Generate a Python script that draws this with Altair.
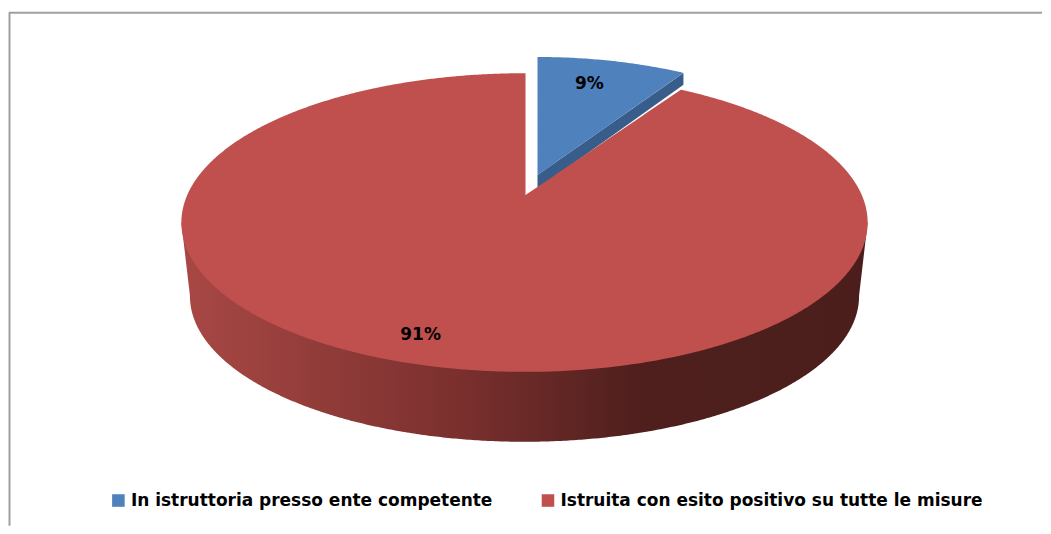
import numpy as np
import pandas as pd
import altair as alt

categories = ["In istruttoria  presso ente competente", "Istruita con esito positivo su tutte le misure"]
shares = [9, 91]
labels = ["9%", "91%"]
label_x = [590, 421]
label_y = [84, 335]
face_colors = ["#4f81bd", "#c0504d"]

W, H = 1035, 518
K = 0.184


def project(t, ax, ay, A, B):
    u, v = np.sin(t), np.cos(t)
    d = 1 + K * v
    return ax + A * u / d, ay - B * v / d


split = 2 * np.pi * shares[0] / sum(shares)

# blue slice: top face, bounded below by its straight edge
tb = np.linspace(0, split, 60)
bx, by = project(tb, 538, 175, 315, 140)
blue = pd.DataFrame({"x": bx, "y": by, "y2": np.interp(bx, [bx[0], bx[-1]], [175, by[-1]]), "cat": categories[0]})

# blue slice: visible side wall under the straight edge
side_blue = pd.DataFrame({"x": [bx[0], bx[-1]], "y": [175, by[-1]], "y2": [189, by[-1] + 12]})

# red slice: top face
A_red, B_red = 337.6, 144.4
tr = np.linspace(split, 2 * np.pi, 900)
rx, ry = project(tr, 525, 195, A_red, B_red)
i_right = int(np.argmax(rx))
i_left = int(np.argmin(rx))
lower_x = rx[i_right:i_left + 1][::-1]
lower_y = ry[i_right:i_left + 1][::-1]
left_x = rx[i_left:]
left_y = ry[i_left:]
right_x = rx[:i_right + 1]
right_y = ry[:i_right + 1]
gap_x = np.linspace(526.01, rx[0] - 0.01, 20)
xs = np.concatenate([left_x[:-1], [526.0], gap_x, right_x])
ys = np.concatenate([left_y[:-1], [left_y[-1]], np.interp(gap_x, [526, rx[0]], [195, ry[0]]), right_y])
y2s = np.interp(xs, lower_x, lower_y)
red = pd.DataFrame({"x": xs, "y": ys, "y2": y2s, "cat": categories[1]})
faces = pd.concat([blue, red], ignore_index=True)

# red slice: rim, a shrunken copy of the rim ellipse moved down
S = 0.975
tl = np.linspace(np.pi / 2, 3 * np.pi / 2, 500)
wx, wy = project(tl, 525, 269.4, A_red * S, B_red * S)
i_r, i_l = int(np.argmax(wx)), int(np.argmin(wx))
low = pd.DataFrame({"x": wx, "y": wy}).iloc[min(i_r, i_l):max(i_r, i_l) + 1].sort_values("x")
mid_y = float(ry[i_left])
rim = pd.DataFrame({
    "x": np.concatenate([[rx.min()], low["x"], [rx.max()]]),
    "y2": np.concatenate([[mid_y], low["y"], [mid_y]]),
})
rim["y"] = mid_y

X = alt.X("x:Q", scale=alt.Scale(domain=[8, 8 + W], nice=False, zero=False), axis=None)
Y = alt.Y("y:Q", scale=alt.Scale(domain=[8 + H, 8], nice=False, zero=False), axis=None)

rim_layer = alt.Chart(rim).mark_area(
    fill=alt.Gradient(
        gradient="linear", x1=0, x2=1, y1=0, y2=0,
        stops=[
            alt.GradientStop(offset=0, color="#a84845"),
            alt.GradientStop(offset=0.4, color="#7b302e"),
            alt.GradientStop(offset=0.67, color="#4e1f1d"),
            alt.GradientStop(offset=1, color="#4b1e1c"),
        ],
    )
).encode(X, Y, y2="y2:Q")

side_layer = alt.Chart(side_blue).mark_area(color="#385d8a").encode(X, Y, y2="y2:Q")

face_layer = alt.Chart(faces).mark_area().encode(
    X, Y, y2="y2:Q",
    color=alt.Color(
        "cat:N",
        scale=alt.Scale(domain=categories, range=face_colors),
        legend=alt.Legend(
            title=None, orient="none", legendX=102, legendY=484, direction="horizontal",
            columns=2, columnPadding=40, symbolType="square", symbolSize=158, symbolStrokeWidth=0,
            labelFont="DejaVu Sans", labelFontWeight="bold", labelFontSize=17,
            labelColor="#000000", labelLimit=600, labelOffset=4, padding=0,
        ),
    ),
)

text_layer = alt.Chart(pd.DataFrame({"x": label_x, "y": label_y, "t": labels})).mark_text(
    font="DejaVu Sans", fontWeight="bold", fontSize=17, color="#000000"
).encode(X, Y, text="t:N")

frame_top = alt.Chart(pd.DataFrame({"x": [9], "x2": [8 + W], "y": [12.5]})).mark_rule(
    color="#a0a0a0", strokeWidth=2
).encode(X, Y, x2="x2:Q")
frame_left = alt.Chart(pd.DataFrame({"x": [9.5], "y": [12], "y2": [8 + H]})).mark_rule(
    color="#a0a0a0", strokeWidth=2
).encode(X, Y, y2="y2:Q")

chart = alt.layer(frame_top, frame_left, rim_layer, side_layer, face_layer, text_layer).properties(
    width=W, height=H, padding=0, background="#ffffff"
).configure_view(stroke=None)

chart.save("out.html", embed_options={"renderer": "svg", "actions": False})
